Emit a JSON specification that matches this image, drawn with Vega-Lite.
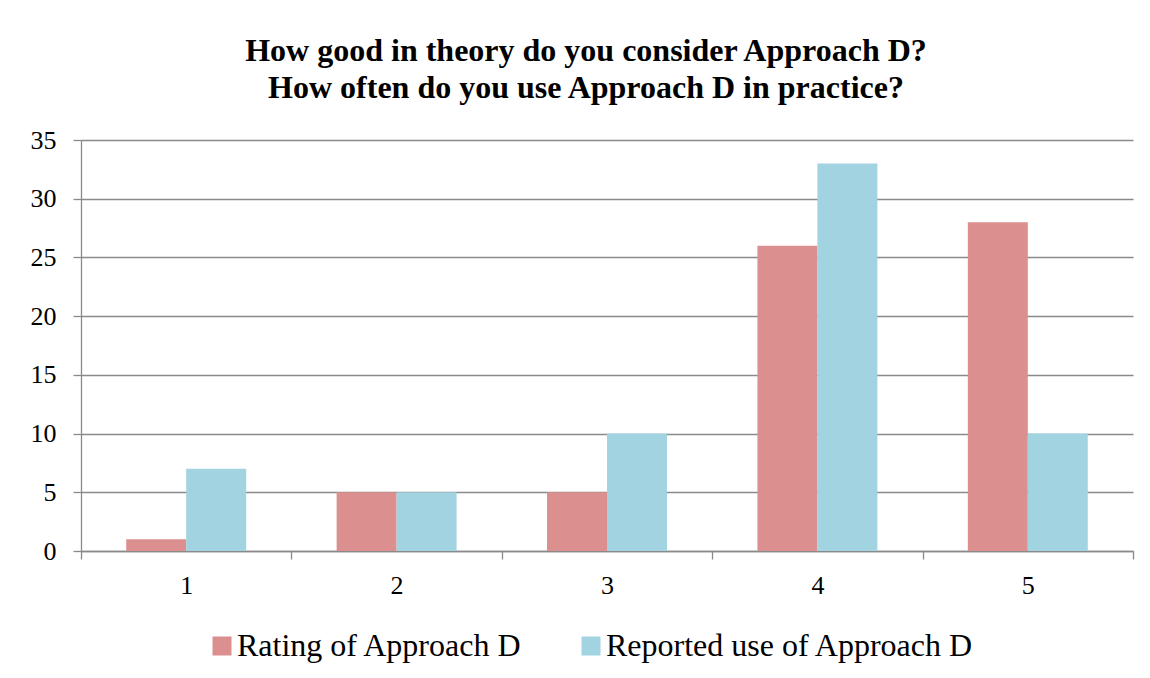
{
  "$schema": "https://vega.github.io/schema/vega-lite/v6.json",
  "autosize": "none",
  "width": 1052,
  "height": 411,
  "padding": {"left": 81, "top": 140, "right": 17, "bottom": 127},
  "background": "white",
  "config": {
    "font": "Liberation Serif",
    "view": {"stroke": null},
    "axis": {"labelFont": "Liberation Serif", "labelColor": "black", "domainColor": "#8a8a8a", "tickColor": "#8a8a8a", "gridColor": "#8a8a8a", "domainWidth": 1.3, "tickWidth": 1.3, "gridWidth": 1.3}
  },
  "title": {
    "text": ["How good in theory do you consider Approach D?", "How often do you use Approach D in practice?"],
    "font": "Liberation Serif",
    "fontSize": 32,
    "fontWeight": "bold",
    "color": "black",
    "lineHeight": 37,
    "anchor": "middle",
    "frame": "group",
    "dx": -21,
    "offset": 22
  },
  "data": {
    "values": [
      {"cat": "1", "series": "Rating of Approach D", "value": 1},
      {"cat": "1", "series": "Reported use of Approach D", "value": 7},
      {"cat": "2", "series": "Rating of Approach D", "value": 5},
      {"cat": "2", "series": "Reported use of Approach D", "value": 5},
      {"cat": "3", "series": "Rating of Approach D", "value": 5},
      {"cat": "3", "series": "Reported use of Approach D", "value": 10},
      {"cat": "4", "series": "Rating of Approach D", "value": 26},
      {"cat": "4", "series": "Reported use of Approach D", "value": 33},
      {"cat": "5", "series": "Rating of Approach D", "value": 28},
      {"cat": "5", "series": "Reported use of Approach D", "value": 10}
    ]
  },
  "mark": {"type": "bar"},
  "encoding": {
    "x": {
      "field": "cat", "type": "nominal",
      "scale": {"paddingInner": 0, "paddingOuter": 0},
      "axis": {"title": null, "labelAngle": 0, "labelFont": "Liberation Serif", "labelFontSize": 26, "tickBand": "extent", "tickSize": 8, "labelPadding": 13}
    },
    "xOffset": {
      "field": "series", "type": "nominal",
      "scale": {"paddingInner": 0, "paddingOuter": 0.754},
      "sort": ["Rating of Approach D", "Reported use of Approach D"]
    },
    "y": {
      "field": "value", "type": "quantitative",
      "scale": {"domain": [0, 35], "nice": false},
      "axis": {"title": null, "values": [0, 5, 10, 15, 20, 25, 30, 35], "labelFont": "Liberation Serif", "labelFontSize": 26, "tickSize": 8, "labelPadding": 17, "grid": true}
    },
    "color": {
      "field": "series", "type": "nominal",
      "scale": {"domain": ["Rating of Approach D", "Reported use of Approach D"], "range": ["#DB8F8E", "#A1D3E1"]},
      "legend": {
        "title": null,
        "orient": "none",
        "direction": "horizontal",
        "legendX": 125,
        "legendY": 490,
        "symbolType": "square",
        "symbolSize": 361,
        "symbolStrokeWidth": 0,
        "symbolOpacity": 1,
        "labelFont": "Liberation Serif",
        "labelFontSize": 32,
        "labelColor": "black",
        "labelOffset": -1,
        "columnPadding": 52,
        "labelLimit": 600
      }
    }
  }
}
